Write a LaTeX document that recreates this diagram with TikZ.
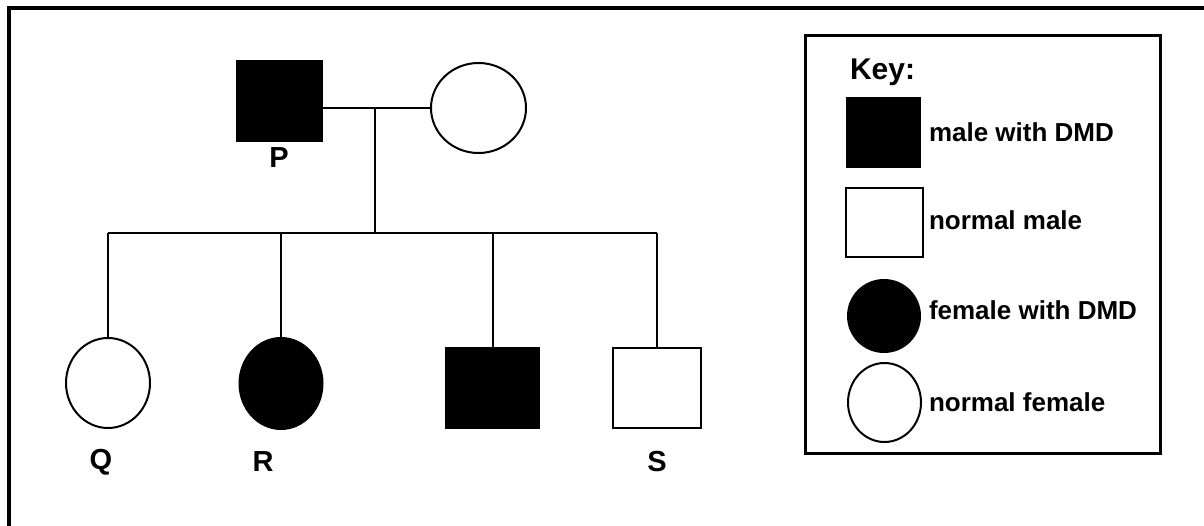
\documentclass[tikz,border=0pt]{standalone}
\usepackage{fontspec}
\setmainfont{Liberation Sans}
\usetikzlibrary{shapes.geometric}
\begin{document}
\begin{tikzpicture}[x=1pt,y=-1pt,
  line width=2pt,
  person/.style={draw=black,line width=2pt,inner sep=0pt,outer sep=0pt},
  malesq/.style={person,rectangle},
  femcirc/.style={person,ellipse},
  aff/.style={fill=black},
  unaff/.style={fill=white},
  lbl/.style={font=\fontsize{29}{32}\selectfont\bfseries,inner sep=0pt},
  keytxt/.style={font=\fontsize{26}{30}\selectfont\bfseries,inner sep=0pt,anchor=west},
  link/.style={draw=black,line width=2pt}
]
\useasboundingbox (0,0) rectangle (1204,526);
\fill[white] (0,0) rectangle (1204,526);
% outer frame (only left and top visible)
\draw[line width=4pt] (9,526) -- (9,8) -- (1204,8);

% parents
\node[malesq,aff,minimum width=85pt,minimum height=80pt] (P) at (279.5,101) {};
\node[femcirc,unaff,minimum width=95pt,minimum height=90pt] (M) at (478.5,108) {};
\node[lbl] (Plbl) at (279,158) {P};

% children
\node[femcirc,unaff,minimum width=84pt,minimum height=90pt] (Q) at (108,383) {};
\node[femcirc,aff,minimum width=83pt,minimum height=91pt] (R) at (281,383.5) {};
\node[malesq,aff,minimum width=93pt,minimum height=80pt] (B) at (492.5,388) {};
\node[malesq,unaff,minimum width=88pt,minimum height=80pt] (S) at (657,388) {};
\node[lbl] (Qlbl) at (101,462) {Q};
\node[lbl] (Rlbl) at (263,462) {R};
\node[lbl] (Slbl) at (657,462) {S};

% connectors
\coordinate (mid) at (375,108);
\coordinate (sibL) at (108,233);
\coordinate (sibR) at (657,233);
\draw[link] (P.east |- M.west) -- (M.west);
\draw[link] (mid) -- (mid |- sibL);
\draw[link] (sibL) -- (sibR);
\draw[link] (Q.north) -- (Q.north |- sibL);
\draw[link] (R.north) -- (R.north |- sibL);
\draw[link] (B.north) -- (B.north |- sibL);
\draw[link] (S.north) -- (S.north |- sibL);

% key
\node[draw=black,line width=3pt,minimum width=355pt,minimum height=417pt,inner sep=0pt] (key) at (982.5,244.5) {};
\node[font=\fontsize{30}{34}\selectfont\bfseries,inner sep=0pt,anchor=west] (keyT) at (849,72) {Key:};
\node[malesq,aff,minimum width=73pt,minimum height=69pt] (k1) at (883.5,132.5) {};
\node[malesq,unaff,minimum width=77pt,minimum height=69pt] (k2) at (884.5,222.5) {};
\node[femcirc,aff,minimum width=72pt,minimum height=72pt] (k3) at (884,316) {};
\node[femcirc,unaff,minimum width=73pt,minimum height=79pt] (k4) at (884.5,402.5) {};
\node[keytxt] (t1) at (928,132) {male with DMD};
\node[keytxt] (t2) at (928,220) {normal male};
\node[keytxt] (t3) at (928,310) {female with DMD};
\node[keytxt] (t4) at (928,402) {normal female};
\end{tikzpicture}
\end{document}
